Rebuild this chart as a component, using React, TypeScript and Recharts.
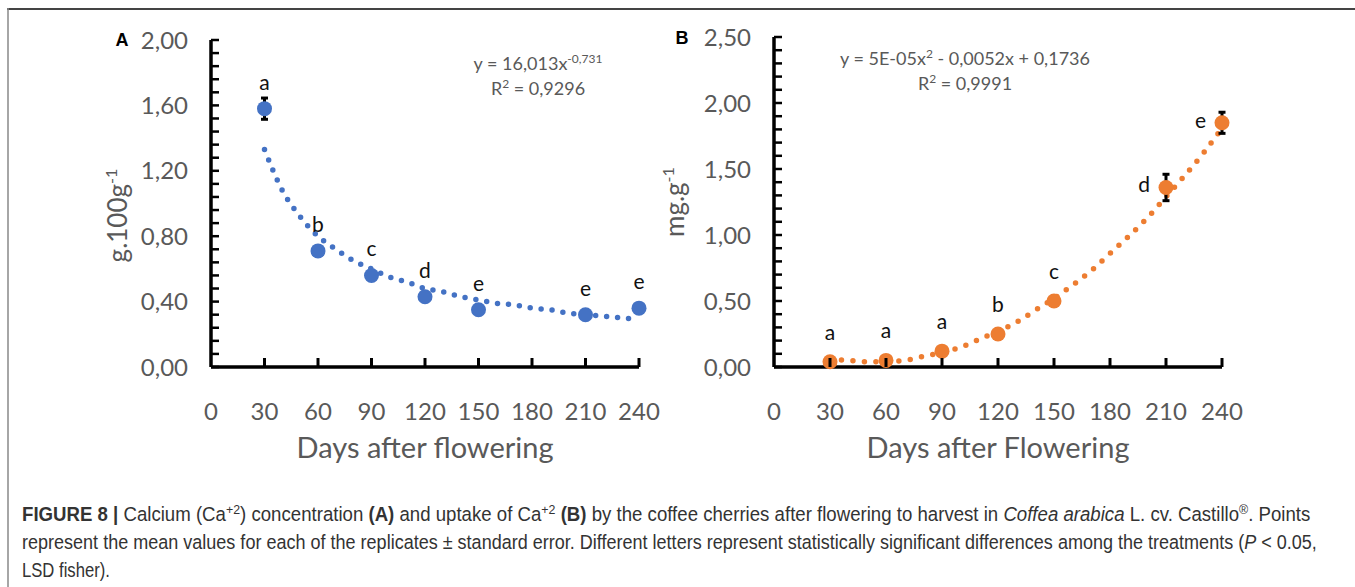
import React, { useLayoutEffect, useRef, useState } from 'react';
import { ComposedChart, Line, Scatter, XAxis, YAxis, ErrorBar } from 'recharts';

// sampling days of the cherries
const days = [30, 60, 90, 120, 150, 210, 240];

// panel A: Ca concentration (g.100g-1)
const concentrationA = [1.58, 0.71, 0.56, 0.43, 0.35, 0.32, 0.36];
const errorA = [0.065, 0.02, 0.02, 0.02, 0.02, 0.02, 0.02];
const lettersA = ['a', 'b', 'c', 'd', 'e', 'e', 'e'];

// panel B: Ca uptake (mg.g-1)
const uptakeB = [0.04, 0.05, 0.12, 0.25, 0.5, 1.36, 1.85];
const errorB = [0.01, 0.02, 0.03, 0.02, 0.02, 0.1, 0.08];
const lettersB = ['a', 'a', 'a', 'b', 'c', 'd', 'e'];
const letterSideB = ['top', 'top', 'top', 'top', 'top', 'left', 'left'];

// fitted trend lines
const trendDays = [30, 40, 50, 60, 70, 80, 90, 100, 110, 120, 130, 140, 150, 160, 170, 180, 190, 200, 210, 220, 230, 240];
const trendA = [1.33, 1.08, 0.92, 0.8, 0.72, 0.65, 0.6, 0.55, 0.52, 0.48, 0.46, 0.43, 0.41, 0.39, 0.38, 0.36, 0.35, 0.33, 0.32, 0.31, 0.3, 0.29];
const trendB = [0.06, 0.05, 0.04, 0.04, 0.05, 0.08, 0.11, 0.15, 0.21, 0.27, 0.34, 0.43, 0.52, 0.62, 0.73, 0.86, 0.99, 1.13, 1.29, 1.45, 1.62, 1.81];

// axis ticks
const xTicks = [0, 30, 60, 90, 120, 150, 180, 210, 240];
const yMajorA = [0, 0.4, 0.8, 1.2, 1.6, 2.0];
const yMajorB = [0, 0.5, 1.0, 1.5, 2.0, 2.5];

const FONT = 'Lato, "Open Sans", sans-serif';
const GREY = '#595959';
const BLUE = '#4472C4';
const ORANGE = '#ED7D31';

const minorTicks = (max: number, step: number) =>
  Array.from({ length: Math.round(max / step) + 1 }, (_, i) => Number((i * step).toFixed(2)));

const pointsA = days.map((day, i) => ({ day, value: concentrationA[i], err: errorA[i], letter: lettersA[i] }));
const pointsB = days.map((day, i) => ({ day, value: uptakeB[i], err: errorB[i], letter: lettersB[i], side: letterSideB[i] }));
const lineA = trendDays.map((day, i) => ({ day, value: trendA[i] }));
const lineB = trendDays.map((day, i) => ({ day, value: trendB[i] }));

const makeYTick = (majors: number[]) => (props: any) => {
  const { x, y, payload } = props;
  const v = payload.value;
  const isMajor = majors.some((m) => Math.abs(m - v) < 1e-6);
  return (
    <g>
      <line x1={x} x2={x + 8} y1={y} y2={y} stroke="#000" strokeWidth={2.5} />
      {isMajor && (
        <text x={x - 23} y={y + 8.5} textAnchor="end" fontSize={24} fill={GREY} fontFamily={FONT}>
          {v.toFixed(2).replace('.', ',')}
        </text>
      )}
    </g>
  );
};

const XTick = (props: any) => {
  const { x, y, payload } = props;
  return (
    <g>
      {payload.value !== 0 && <line x1={x} x2={x} y1={y} y2={y - 9} stroke="#000" strokeWidth={3} />}
      <text x={x} y={y + 53} textAnchor="middle" fontSize={24} fill={GREY} fontFamily={FONT}>
        {payload.value}
      </text>
    </g>
  );
};

const xTitle = (text: string) => (props: any) => {
  const vb = props.viewBox || {};
  return (
    <text x={vb.x + vb.width / 2} y={vb.y + 91} textAnchor="middle" fontSize={29} fill={GREY} fontFamily={FONT}>
      {text}
    </text>
  );
};

const yTitle = (text: string, dxFromAxis: number, dy: number, size: number) => (props: any) => {
  const vb = props.viewBox || {};
  const cx = vb.x + vb.width - dxFromAxis;
  const cy = vb.y + vb.height / 2 + dy;
  return (
    <text x={cx} y={cy} transform={`rotate(-90, ${cx}, ${cy})`} textAnchor="middle" fontSize={size} fill={GREY} fontFamily={FONT}>
      {text}
      <tspan dy={-size * 0.4} fontSize={size * 0.62}>-1</tspan>
    </text>
  );
};

const pointShapeA = (p: any) => (
  <g>
    <circle cx={p.cx} cy={p.cy} r={7.5} fill={BLUE} />
    <text x={p.cx} y={p.cy - 19} textAnchor="middle" fontSize={21} fill="#111" fontFamily={FONT}>
      {p.payload.letter}
    </text>
  </g>
);

const pointShapeB = (p: any) => {
  const left = p.payload.side === 'left';
  return (
    <g>
      <circle cx={p.cx} cy={p.cy} r={7.5} fill={ORANGE} />
      <text
        x={left ? p.cx - 16 : p.cx}
        y={left ? p.cy + 5 : p.cy - 22}
        textAnchor={left ? 'end' : 'middle'}
        fontSize={21}
        fill="#111"
        fontFamily={FONT}
      >
        {p.payload.letter}
      </text>
    </g>
  );
};

const axisLine = { stroke: '#000', strokeWidth: 3.5 };

const PanelA = () => (
  <ComposedChart width={680} height={480} margin={{ top: 40, right: 41, bottom: 0, left: 0 }}>
    <XAxis
      type="number"
      dataKey="day"
      domain={[0, 240]}
      ticks={xTicks}
      interval={0}
      tick={<XTick />}
      tickLine={false}
      tickSize={0}
      tickMargin={0}
      axisLine={axisLine}
      height={113}
      label={{ content: xTitle('Days after flowering') }}
    />
    <YAxis
      type="number"
      dataKey="value"
      domain={[0, 2]}
      ticks={minorTicks(2, 0.08)}
      interval={0}
      tick={makeYTick(yMajorA)}
      tickLine={false}
      tickSize={0}
      tickMargin={0}
      axisLine={axisLine}
      width={211}
      label={{ content: yTitle('g.100g', 84, 12, 26) }}
    />
    <Line
      data={lineA}
      dataKey="value"
      type="monotone"
      stroke={BLUE}
      strokeWidth={5.5}
      strokeDasharray="0 11"
      strokeLinecap="round"
      dot={false}
      activeDot={false}
      isAnimationActive={false}
    />
    <Scatter data={pointsA} dataKey="value" shape={pointShapeA} isAnimationActive={false}>
      <ErrorBar dataKey="err" direction="y" width={3.5} strokeWidth={3} stroke="#000" />
    </Scatter>
  </ComposedChart>
);

const PanelB = () => (
  <ComposedChart width={725} height={480} margin={{ top: 37, right: 133, bottom: 0, left: 0 }}>
    <XAxis
      type="number"
      dataKey="day"
      domain={[0, 240]}
      ticks={xTicks}
      interval={0}
      tick={<XTick />}
      tickLine={false}
      tickSize={0}
      tickMargin={0}
      axisLine={axisLine}
      height={113}
      label={{ content: xTitle('Days after Flowering') }}
    />
    <YAxis
      type="number"
      dataKey="value"
      domain={[0, 2.5]}
      ticks={minorTicks(2.5, 0.1)}
      interval={0}
      tick={makeYTick(yMajorB)}
      tickLine={false}
      tickSize={0}
      tickMargin={0}
      axisLine={axisLine}
      width={144}
      label={{ content: yTitle('mg.g', 90, 0, 26) }}
    />
    <Line
      data={lineB}
      dataKey="value"
      type="monotone"
      stroke={ORANGE}
      strokeWidth={5.5}
      strokeDasharray="0 11.5"
      strokeLinecap="round"
      dot={false}
      activeDot={false}
      isAnimationActive={false}
    />
    <Scatter data={pointsB} dataKey="value" shape={pointShapeB} isAnimationActive={false}>
      <ErrorBar dataKey="err" direction="y" width={3.5} strokeWidth={3} stroke="#000" />
    </Scatter>
  </ComposedChart>
);

const CAPTION_FONT = '"Liberation Sans", Arial, sans-serif';

// squeezes a caption line to the width it has in the figure
const CaptionLine = ({ y, width, children }: { y: number; width: number; children: React.ReactNode }) => {
  const ref = useRef<SVGTextElement>(null);
  const [sx, setSx] = useState(1);
  useLayoutEffect(() => {
    const w = ref.current ? ref.current.getComputedTextLength() : 0;
    if (w > 0) setSx(width / w);
  }, [width]);
  return (
    <text ref={ref} x={0} y={y} transform={`translate(22, 0) scale(${sx}, 1)`}>
      {children}
    </text>
  );
};

const Overlay = () => (
  <svg width={1355} height={587} style={{ position: 'absolute', left: 0, top: 0, pointerEvents: 'none' }}>
    {/* figure frame */}
    <line x1={7} x2={1355} y1={9} y2={9} stroke="#444" strokeWidth={2} />
    <line x1={8} x2={8} y1={8} y2={587} stroke="#888" strokeWidth={1.5} />

    {/* panel letters */}
    <text x={122} y={46} textAnchor="middle" fontSize={18} fontWeight="bold" fill="#000" fontFamily="'Liberation Sans', Arial, sans-serif">A</text>
    <text x={682} y={44} textAnchor="middle" fontSize={18} fontWeight="bold" fill="#000" fontFamily="'Liberation Sans', Arial, sans-serif">B</text>

    {/* regression equations */}
    <g fontFamily={FONT} fontSize={18} fill={GREY} textAnchor="middle">
      <text x={538} y={70}>
        y = 16,013x<tspan dy={-7} fontSize={12}>-0,731</tspan>
      </text>
      <text x={538} y={95}>
        R<tspan dy={-7} fontSize={12}>2</tspan><tspan dy={7}> = 0,9296</tspan>
      </text>
      <text x={965} y={65}>
        y = 5E-05x<tspan dy={-7} fontSize={12}>2</tspan><tspan dy={7}> - 0,0052x + 0,1736</tspan>
      </text>
      <text x={965} y={90}>
        R<tspan dy={-7} fontSize={12}>2</tspan><tspan dy={7}> = 0,9991</tspan>
      </text>
    </g>

    {/* caption */}
    <g fontFamily={CAPTION_FONT} fontSize={19.5} fill="#333">
      <CaptionLine y={521} width={1289}>
        <tspan fontWeight="bold">FIGURE 8 | </tspan>
        <tspan>Calcium (Ca</tspan>
        <tspan dy={-7} fontSize={13}>+2</tspan>
        <tspan dy={7}>) concentration </tspan>
        <tspan fontWeight="bold">(A)</tspan>
        <tspan> and uptake of Ca</tspan>
        <tspan dy={-7} fontSize={13}>+2</tspan>
        <tspan dy={7}> </tspan>
        <tspan fontWeight="bold">(B)</tspan>
        <tspan> by the coffee cherries after flowering to harvest in </tspan>
        <tspan fontStyle="italic">Coffea arabica</tspan>
        <tspan> L. cv. Castillo</tspan>
        <tspan dy={-7} fontSize={13}>®</tspan>
        <tspan dy={7}>. Points</tspan>
      </CaptionLine>
      <CaptionLine y={549} width={1296}>
        <tspan>represent the mean values for each of the replicates ± standard error. Different letters represent statistically significant differences among the treatments (</tspan>
        <tspan fontStyle="italic">P</tspan>
        <tspan> &lt; 0.05,</tspan>
      </CaptionLine>
      <CaptionLine y={577} width={88}>LSD fisher).</CaptionLine>
    </g>
  </svg>
);

export default function App() {
  return (
    <div style={{ position: 'relative', width: 1355, height: 587, background: '#fff', overflow: 'hidden' }}>
      <style>{'body { margin: 0; }'}</style>
      <div style={{ position: 'absolute', left: 0, top: 0 }}>
        <PanelA />
      </div>
      <div style={{ position: 'absolute', left: 630, top: 0 }}>
        <PanelB />
      </div>
      <Overlay />
    </div>
  );
}
